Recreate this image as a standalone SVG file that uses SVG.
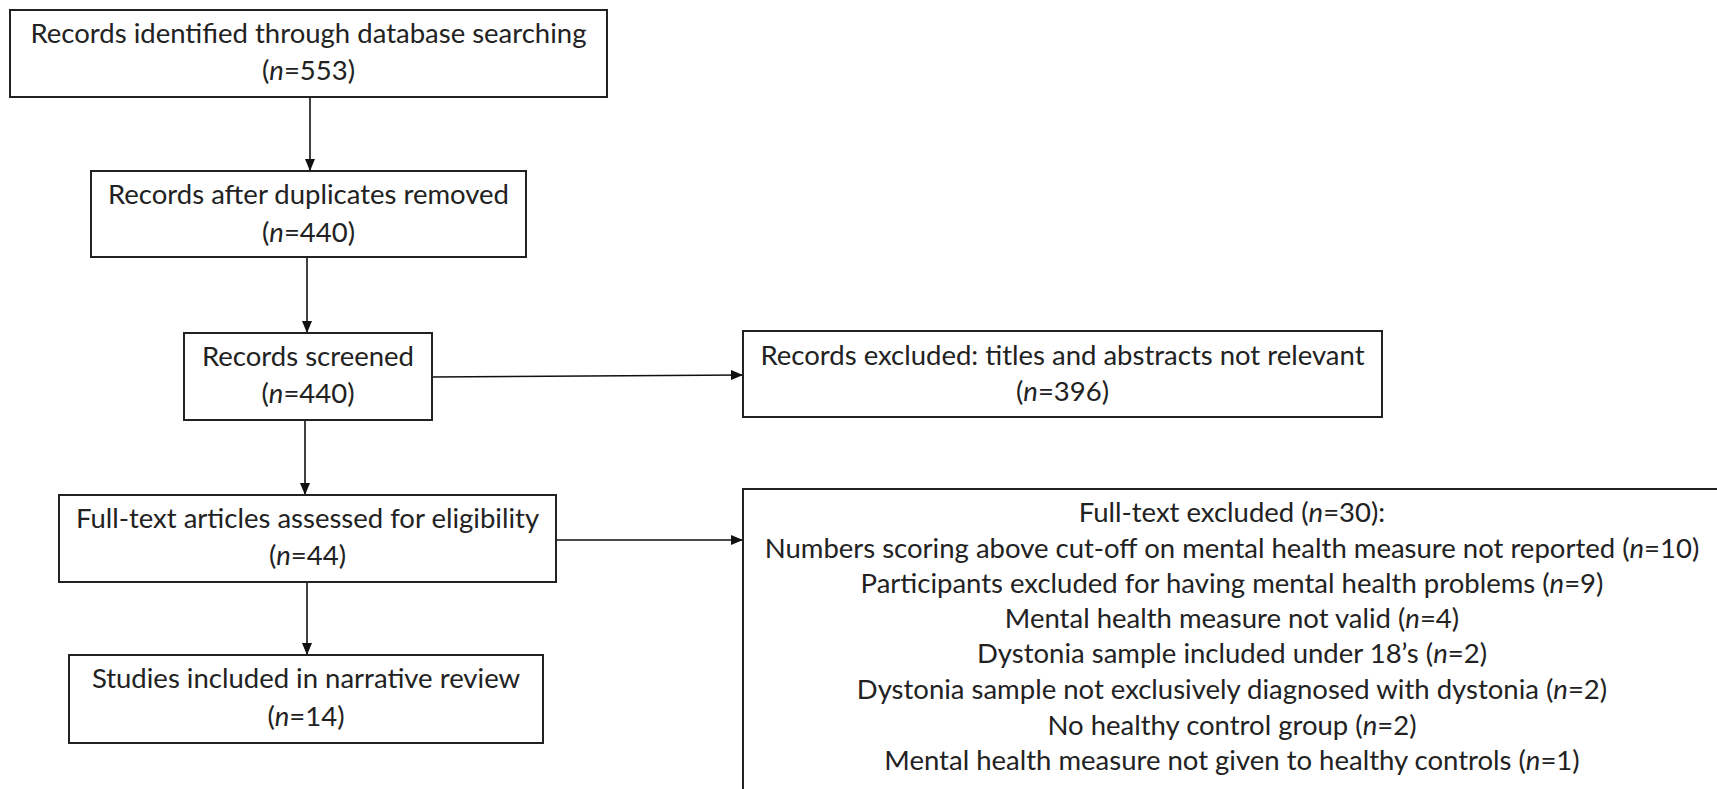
<svg xmlns="http://www.w3.org/2000/svg" width="1717" height="789" viewBox="0 0 1717 789">
<defs>
<marker id="ah" markerWidth="12" markerHeight="10" refX="12" refY="5" orient="auto" markerUnits="userSpaceOnUse">
<path d="M0,0 L12,5 L0,10 Z" fill="#111"/>
</marker>
<style>
.box{fill:#fff;stroke:#222;stroke-width:2}
.t{font-family:Lato,"Liberation Sans",sans-serif;font-size:27.5px;fill:#222;text-anchor:middle}
.i{font-style:italic}
.c{stroke:#111;stroke-width:1.6;fill:none;marker-end:url(#ah)}
</style>
</defs>
<rect width="1717" height="789" fill="#fff"/>
<g id="connectors">
<line class="c" x1="310" y1="97" x2="310" y2="171"/>
<line class="c" x1="307" y1="257" x2="307" y2="333"/>
<line class="c" x1="305" y1="420" x2="305" y2="495"/>
<line class="c" x1="307" y1="582" x2="307" y2="655"/>
<line class="c" x1="432" y1="377" x2="743" y2="375"/>
<line class="c" x1="556" y1="540" x2="743" y2="540"/>
</g>
<g id="n1">
<rect class="box" x="10" y="10" width="597" height="87"/>
<text class="t" x="308.5" y="43">Records identified through database searching</text>
<text class="t" x="308.5" y="80">(<tspan class="i">n</tspan>=553)</text>
</g>
<g id="n2">
<rect class="box" x="91" y="171" width="435" height="86"/>
<text class="t" x="308.5" y="204">Records after duplicates removed</text>
<text class="t" x="308.5" y="242">(<tspan class="i">n</tspan>=440)</text>
</g>
<g id="n3">
<rect class="box" x="184" y="333" width="248" height="87"/>
<text class="t" x="308" y="366">Records screened</text>
<text class="t" x="308" y="403">(<tspan class="i">n</tspan>=440)</text>
</g>
<g id="n4">
<rect class="box" x="59" y="495" width="497" height="87"/>
<text class="t" x="307.5" y="528">Full-text articles assessed for eligibility</text>
<text class="t" x="307.5" y="565">(<tspan class="i">n</tspan>=44)</text>
</g>
<g id="n5">
<rect class="box" x="69" y="655" width="474" height="88"/>
<text class="t" x="306" y="688">Studies included in narrative review</text>
<text class="t" x="306" y="726">(<tspan class="i">n</tspan>=14)</text>
</g>
<g id="n6">
<rect class="box" x="743" y="331" width="639" height="86"/>
<text class="t" x="1062.5" y="365">Records excluded: titles and abstracts not relevant</text>
<text class="t" x="1062.5" y="401">(<tspan class="i">n</tspan>=396)</text>
</g>
<g id="n7">
<rect class="box" x="743" y="489" width="980" height="320"/>
<text class="t" x="1232" y="522">Full-text excluded (<tspan class="i">n</tspan>=30):</text>
<text class="t" x="1232" y="558">Numbers scoring above cut-off on mental health measure not reported (<tspan class="i">n</tspan>=10)</text>
<text class="t" x="1232" y="593">Participants excluded for having mental health problems (<tspan class="i">n</tspan>=9)</text>
<text class="t" x="1232" y="628">Mental health measure not valid (<tspan class="i">n</tspan>=4)</text>
<text class="t" x="1232" y="663">Dystonia sample included under 18’s (<tspan class="i">n</tspan>=2)</text>
<text class="t" x="1232" y="699">Dystonia sample not exclusively diagnosed with dystonia (<tspan class="i">n</tspan>=2)</text>
<text class="t" x="1232" y="735">No healthy control group (<tspan class="i">n</tspan>=2)</text>
<text class="t" x="1232" y="770">Mental health measure not given to healthy controls (<tspan class="i">n</tspan>=1)</text>
</g>
</svg>
